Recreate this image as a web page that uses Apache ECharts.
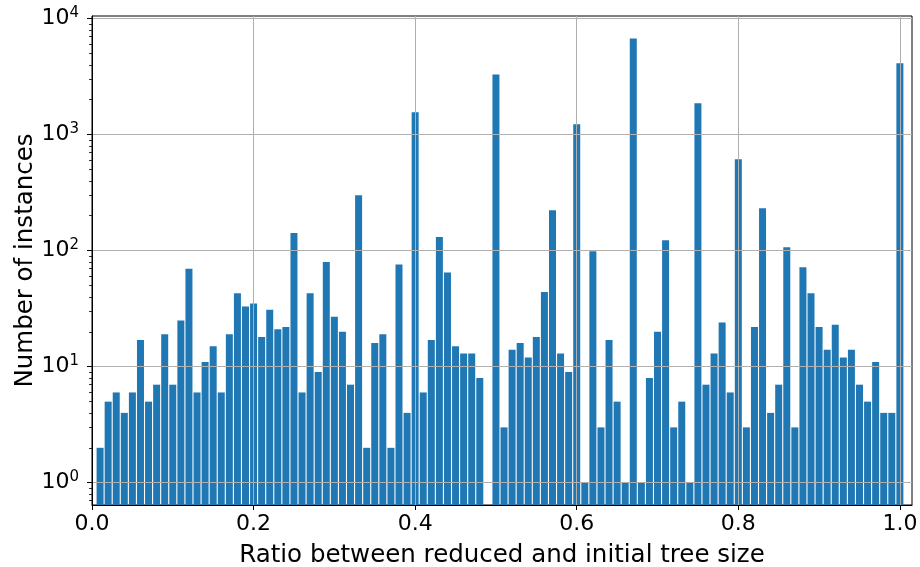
<!DOCTYPE html>
<html><head><meta charset="utf-8">
<script src="https://cdn.jsdelivr.net/npm/echarts@6/dist/echarts.min.js"></script>
<style>html,body{margin:0;padding:0;background:#fff}#c{width:920px;height:567px}</style>
</head><body><div id="c"></div>
<script>
// Histogram bins (edges start / width) and counts
const binStart = 0.005;
const binWidth = 0.01;
const counts = [
  2, 5, 6, 4, 6, 17, 5, 7, 19, 7,
  25, 70, 6, 11, 15, 6, 19, 43, 33, 35,
  18, 31, 21, 22, 142, 6, 43, 9, 80, 27,
  20, 7, 300, 2, 16, 19, 2, 76, 4, 1560,
  6, 17, 131, 65, 15, 13, 13, 8, 0, 3300,
  3, 14, 16, 12, 18, 44, 223, 13, 9, 1230,
  1, 99, 3, 17, 5, 1, 6750, 1, 8, 20,
  123, 3, 5, 1, 1860, 7, 13, 24, 6, 614,
  3, 22, 232, 4, 7, 107, 3, 72, 43, 22,
  14, 23, 12, 14, 7, 5, 11, 4, 4, 4120
];
const xTicks = [0, 0.2, 0.4, 0.6, 0.8, 1.0];
const yTicks = [1, 10, 100, 1000, 10000];
const yMinorTicks = [0.7, 0.8, 0.9,
  2, 3, 4, 5, 6, 7, 8, 9,
  20, 30, 40, 50, 60, 70, 80, 90,
  200, 300, 400, 500, 600, 700, 800, 900,
  2000, 3000, 4000, 5000, 6000, 7000, 8000, 9000];
const xLabel = 'Ratio between reduced and initial tree size';
const yLabel = 'Number of instances';
const xMin = 0, xMax = 1.015;
const yMin = 0.643, yMax = 10530;

const FONT = 'DejaVu Sans';
const barData = counts.map((c, i) => [binStart + binWidth * (i + 0.5), c > 0 ? c : '-']);

const chart = echarts.init(document.getElementById('c'), null, {renderer: 'canvas'});
chart.setOption({
  animation: false,
  backgroundColor: '#ffffff',
  grid: {left: 92, right: 8, top: 16, bottom: 62, show: true, borderColor: '#000', borderWidth: 1,
    backgroundColor: 'transparent', containLabel: false, outerBoundsMode: 'none'},
  xAxis: {
    type: 'value', min: xMin, max: xMax, interval: 0.2, z: 5,
    name: xLabel, nameLocation: 'middle', nameGap: 38, nameMoveOverlap: false,
    nameTextStyle: {fontFamily: FONT, fontSize: 24.5, color: '#000'},
    axisLine: {show: true, lineStyle: {color: '#000', width: 1}},
    axisTick: {show: true, customValues: xTicks, length: 5, lineStyle: {color: '#000', width: 1}},
    axisLabel: {customValues: xTicks, margin: 8, fontFamily: FONT, fontSize: 22, color: '#000',
      formatter: v => Number(v).toFixed(1)},
    splitLine: {show: true, lineStyle: {color: '#b0b0b0', width: 1}}
  },
  yAxis: [{
    type: 'log', logBase: 10, min: yMin, max: yMax, startValue: yMin, z: 5,
    name: yLabel, nameLocation: 'middle', nameGap: 54, nameRotate: 90, nameMoveOverlap: false,
    nameTextStyle: {fontFamily: FONT, fontSize: 24.5, color: '#000'},
    axisLine: {show: true, lineStyle: {color: '#000', width: 1}},
    axisTick: {show: true, customValues: yTicks, length: 5, lineStyle: {color: '#000', width: 1}},
    axisLabel: {customValues: yTicks, margin: 13, color: '#000',
      formatter: v => '{b|10}{s|' + Math.round(Math.log10(v)) + '}',
      rich: {
        b: {fontFamily: FONT, fontSize: 22, lineHeight: 26, color: '#000'},
        s: {fontFamily: FONT, fontSize: 15, lineHeight: 15, verticalAlign: 'top', color: '#000'}
      }},
    splitLine: {show: true, lineStyle: {color: '#b0b0b0', width: 1}}
  }, {
    type: 'log', logBase: 10, min: yMin, max: yMax, position: 'left', z: 5,
    axisLine: {show: false},
    axisTick: {show: true, customValues: yMinorTicks, length: 3, lineStyle: {color: '#000', width: 0.8}},
    axisLabel: {show: false},
    splitLine: {show: false}
  }],
  series: [{
    type: 'bar', data: barData, barWidth: 7, z: 2,
    itemStyle: {color: '#1f77b4'}, clip: true
  }]
});
</script></body></html>
